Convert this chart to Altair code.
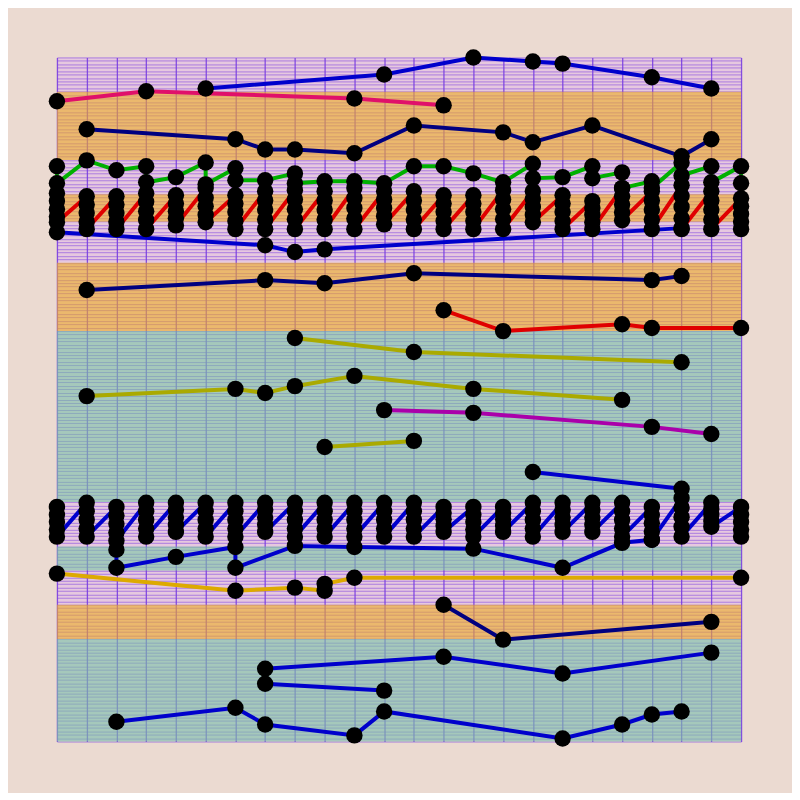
import altair as alt
import pandas as pd

BLUE = "#0000cc"
NAVY = "#000080"
RED = "#e00000"
GREEN = "#00b000"
CRIMSON = "#e0106a"
OLIVE = "#aaaa00"
PURPLE = "#aa00aa"
GOLD = "#ddaa00"

# simple series: (name, colour, x positions, y values) in drawing order
simple_series = [
    ("A", BLUE, [5, 11, 14, 16, 17, 20, 22], [190.9, 195.0, 200.0, 198.8, 198.2, 194.2, 190.9]),
    ("B", CRIMSON, [0, 3, 10, 13], [187.2, 190.1, 188.0, 186.0]),
    ("C", NAVY, [1, 6, 7, 8, 10, 12, 15, 16, 18, 21, 22],
     [179.0, 176.1, 173.1, 173.1, 172.0, 180.1, 178.1, 175.2, 180.1, 171.1, 176.1]),
    ("F", BLUE, [0, 7, 8, 9, 21], [148.9, 145.1, 143.1, 143.9, 150.1]),
    ("G", NAVY, [1, 7, 9, 12, 20, 21], [132.0, 134.9, 134.0, 136.9, 134.9, 136.1]),
    ("H", RED, [13, 15, 19, 20, 23], [126.1, 120.0, 122.0, 120.9, 120.9]),
    ("I", OLIVE, [8, 12, 21], [118.0, 113.9, 110.9]),
    ("J", OLIVE, [1, 6, 7, 8, 10, 14, 19], [101.0, 103.1, 101.9, 103.9, 106.9, 103.1, 99.9]),
    ("K", PURPLE, [11, 14, 20, 22], [96.9, 96.1, 92.0, 89.9]),
    ("L", OLIVE, [9, 12], [86.1, 87.9]),
    ("M", BLUE, [16, 21], [78.8, 73.9]),
    ("O", BLUE, [2, 2, 4, 6, 6, 8, 10, 14, 17, 19, 20],
     [56.1, 50.8, 54.0, 56.9, 50.8, 57.2, 56.9, 56.4, 50.8, 58.1, 59.0]),
    ("P", GOLD, [0, 6, 8, 9, 9, 10, 23], [49.1, 44.1, 45.0, 44.1, 46.1, 47.9, 47.9]),
    ("Q", NAVY, [13, 15, 22], [40.0, 29.8, 35.0]),
    ("R", BLUE, [7, 13, 17, 22], [21.3, 24.8, 19.9, 26.0]),
    ("S", BLUE, [7, 11], [16.9, 14.9]),
    ("T", BLUE, [2, 6, 7, 10, 11, 17, 19, 20, 21], [5.8, 9.9, 5.0, 1.8, 8.8, 0.9, 5.0, 7.9, 8.8]),
]

# column series: several values at each x (0..23), in drawing order
green_cols = [
    [168.2, 163.2], [169.9], [167.0], [168.2, 163.5], [165.0], [169.3, 162.9],
    [167.6, 164.1], [164.1], [166.1, 163.2], [163.8], [163.8], [163.2],
    [168.2], [168.2], [166.1], [163.5], [168.9, 164.7], [165.0],
    [168.2, 164.7], [166.4, 161.8], [163.8, 161.8], [169.3, 165.5], [168.2, 163.5], [168.2, 163.2],
]
red_cols = [
    [160.3, 158.0, 155.6, 153.5, 151.8], [159.4, 157.0, 154.5, 152.0, 149.8], [159.4, 157.0, 154.5, 152.0, 149.8],
    [160.3, 157.8, 155.0, 152.5, 149.8], [159.7, 157.3, 155.0, 153.0, 150.9], [161.8, 159.0, 156.5, 154.0, 151.8],
    [159.7, 157.3, 154.8, 152.2, 149.8], [160.9, 158.2, 155.5, 152.6, 149.8], [161.2, 158.5, 155.6, 152.7, 149.8],
    [160.9, 158.2, 155.5, 152.6, 149.8], [161.8, 158.9, 156.0, 152.9, 149.8], [160.9, 158.5, 156.0, 153.6, 151.2],
    [160.9, 158.2, 155.5, 152.6, 149.8], [159.7, 157.3, 154.8, 152.2, 149.8], [159.7, 157.3, 154.8, 152.2, 149.8],
    [161.2, 158.5, 155.6, 152.7, 149.8], [160.9, 158.6, 156.3, 154.0, 151.8], [159.7, 157.3, 154.8, 152.2, 149.8],
    [158.0, 156.0, 154.0, 151.8, 149.8], [161.8, 159.4, 157.0, 154.7, 152.4], [160.9, 158.2, 155.5, 152.6, 149.8],
    [162.6, 159.5, 156.3, 153.0, 149.8], [160.9, 158.2, 155.5, 152.6, 149.8], [158.8, 156.5, 154.2, 152.0, 149.8],
]
blue_cols = [
    [68.6, 66.3, 64.2, 62.0, 59.9], [69.8, 67.3, 64.8, 62.3, 59.9], [68.6, 66.1, 63.6, 61.1, 58.7],
    [69.8, 67.3, 64.8, 62.3, 59.9], [69.8, 67.7, 65.5, 63.4, 61.3], [69.8, 67.3, 64.8, 62.3, 59.9],
    [69.8, 67.3, 64.8, 62.3, 59.9], [69.8, 67.7, 65.5, 63.4, 61.3], [69.8, 67.3, 64.8, 62.3, 59.9],
    [69.8, 67.3, 64.8, 62.3, 59.9], [69.8, 67.3, 64.8, 62.3, 59.9], [69.8, 67.3, 64.8, 62.3, 59.9],
    [69.8, 67.3, 64.8, 62.3, 59.9], [68.6, 66.8, 65.0, 63.1, 61.3], [68.6, 66.3, 64.2, 62.0, 59.9],
    [68.6, 66.8, 65.0, 63.1, 61.3], [69.8, 67.3, 64.8, 62.3, 59.9], [69.8, 67.7, 65.5, 63.4, 61.3],
    [69.8, 67.7, 65.5, 63.4, 61.3], [69.8, 67.3, 64.8, 62.3, 59.9], [68.6, 66.2, 63.8, 61.4, 59.0],
    [71.2, 68.4, 65.6, 62.8, 59.9], [69.8, 68.0, 66.3, 64.5, 62.8], [68.6, 66.3, 64.2, 62.0, 59.9],
]
column_series = [("D", GREEN, green_cols), ("E", RED, red_cols), ("N", BLUE, blue_cols)]

# background bands (y from, y to)
band_lo = [170, 152, 120, 30, 70, 50, 0]
band_hi = [190, 160, 140, 40, 120, 57, 30]
band_kind = ["orange", "orange", "orange", "orange", "teal", "teal", "teal"]

rows = []
names, colors = [], []
for name, col, xs, ys in simple_series:
    names.append(name); colors.append(col)
    for i, (x, y) in enumerate(zip(xs, ys)):
        rows.append({"series": name, "x": x, "y": y, "order": i})
for name, col, cols in column_series:
    names.append(name); colors.append(col)
    k = 0
    for x, vals in enumerate(cols):
        for v in vals:
            rows.append({"series": name, "x": x, "y": v, "order": k})
            k += 1
df = pd.DataFrame(rows)

bands = pd.DataFrame({"lo": band_lo, "hi": band_hi, "kind": band_kind,
                      "xa": [0] * len(band_lo), "xb": [23] * len(band_lo)})

xscale = alt.Scale(domain=[0, 23], nice=False, zero=False)
yscale = alt.Scale(domain=[0, 200], nice=False, zero=False)


def xaxis():
    return alt.Axis(values=list(range(24)), labels=False, ticks=False, domain=False, title=None,
                    grid=True, gridColor="#7a3fe0", gridOpacity=0.9, gridWidth=1.3)


def yaxis():
    return alt.Axis(values=list(range(0, 201)), labels=False, ticks=False, domain=False, title=None,
                    grid=True, gridColor="#7a3fe0", gridOpacity=0.55, gridWidth=1)


band_layer = alt.Chart(bands).mark_rect(opacity=0.6).encode(
    x=alt.X("xa:Q", scale=xscale, axis=xaxis()),
    x2="xb:Q",
    y=alt.Y("lo:Q", scale=yscale, axis=yaxis()),
    y2="hi:Q",
    color=alt.Color("kind:N", scale=alt.Scale(domain=["orange", "teal"], range=["#efad22", "#79c8a3"]), legend=None),
)

line_layer = alt.Chart(df).mark_line(strokeWidth=4).encode(
    x=alt.X("x:Q", scale=xscale, axis=xaxis()),
    y=alt.Y("y:Q", scale=yscale, axis=yaxis()),
    color=alt.Color("series:N", scale=alt.Scale(domain=names, range=colors), legend=None),
    order="order:Q",
)

point_layer = alt.Chart(df).mark_circle(size=270, color="black", opacity=1).encode(
    x=alt.X("x:Q", scale=xscale, axis=xaxis()),
    y=alt.Y("y:Q", scale=yscale, axis=yaxis()),
)

chart = alt.layer(band_layer, line_layer, point_layer).resolve_scale(color="independent").properties(
    width=685, height=685, background="#ebdad1",
    padding={"left": 49, "top": 49, "right": 51, "bottom": 51},
    autosize=alt.AutoSizeParams(type="none"),
).configure_view(fill="#e6c8df", stroke=None)

chart.save("out.html", embed_options={"renderer": "svg", "actions": False})
